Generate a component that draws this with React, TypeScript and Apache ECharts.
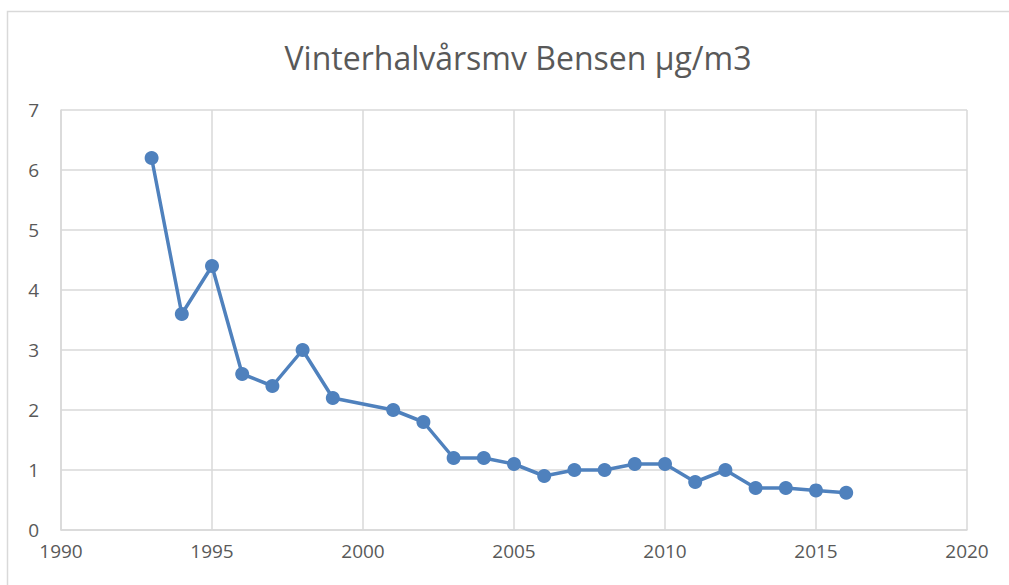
import React, { useEffect, useRef } from "react";
import * as echarts from "echarts";

const years = [1993, 1994, 1995, 1996, 1997, 1998, 1999, 2001, 2002, 2003, 2004, 2005, 2006, 2007, 2008, 2009, 2010, 2011, 2012, 2013, 2014, 2015, 2016];
const values = [6.2, 3.6, 4.4, 2.6, 2.4, 3.0, 2.2, 2.0, 1.8, 1.2, 1.2, 1.1, 0.9, 1.0, 1.0, 1.1, 1.1, 0.8, 1.0, 0.7, 0.7, 0.66, 0.62];
const titleText = "Vinterhalvårsmv Bensen µg/m3";

export default function App() {
  const ref = useRef<HTMLDivElement>(null);
  useEffect(() => {
    if (!ref.current) return;
    const chart = echarts.init(ref.current, null, { renderer: "svg" });
    const font = "'Open Sans', 'Noto Sans', sans-serif";
    chart.setOption({
      animation: false,
      backgroundColor: "#ffffff",
      title: {
        text: titleText,
        left: 513,
        textAlign: "center",
        top: 36,
        textStyle: { fontFamily: font, fontSize: 32, fontWeight: "normal", color: "#595959" },
      },
      graphic: [
        {
          type: "rect",
          shape: { x: 7.5, y: 11.5, width: 1010, height: 600 },
          style: { fill: "none", stroke: "#d9d9d9", lineWidth: 1.5 },
          silent: true,
        },
      ],
      grid: { left: 61, right: 42, top: 110, bottom: 55 },
      xAxis: {
        type: "value",
        min: 1990,
        max: 2020,
        interval: 5,
        axisLine: { show: true, lineStyle: { color: "#d9d9d9", width: 1.5 } },
        axisTick: { show: false },
        splitLine: { show: true, lineStyle: { color: "#d9d9d9", width: 1.5 } },
        axisLabel: { fontFamily: font, fontSize: 19, color: "#595959", margin: 11, formatter: (v: number) => String(v) },
      },
      yAxis: {
        type: "value",
        min: 0,
        max: 7,
        interval: 1,
        axisLine: { show: true, lineStyle: { color: "#d9d9d9", width: 1.5 } },
        axisTick: { show: false },
        splitLine: { show: true, lineStyle: { color: "#d9d9d9", width: 1.5 } },
        axisLabel: { fontFamily: font, fontSize: 19, color: "#595959", margin: 22 },
      },
      series: [
        {
          type: "line",
          data: years.map((y, i) => [y, values[i]]),
          symbol: "circle",
          symbolSize: 14,
          lineStyle: { color: "#4f81bd", width: 3.5 },
          itemStyle: { color: "#4f81bd" },
        },
      ],
    });
    return () => chart.dispose();
  }, []);
  return <div ref={ref} style={{ position: "fixed", left: 0, top: 0, width: 1009, height: 585 }} />;
}
